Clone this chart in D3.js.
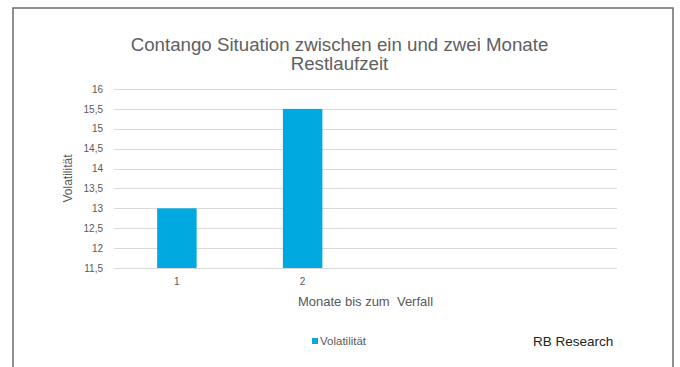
<!DOCTYPE html>
<html>
<head>
<meta charset="utf-8">
<script src="https://cdn.jsdelivr.net/npm/d3@7"></script>
<style>
  html, body { margin: 0; padding: 0; background: #fff; }
  svg { display: block; }
  text { font-family: "Liberation Sans", Arial, sans-serif; }
</style>
</head>
<body>
<svg id="chart" width="680" height="367"></svg>
<script>
// Chart data
const categories = ["1", "2", "3", "4"];
const categoryLabels = ["1", "2", "", ""];
const volatility = [13, 15.5, null, null];
const yTicks = [11.5, 12, 12.5, 13, 13.5, 14, 14.5, 15, 15.5, 16];
const titleLines = ["Contango Situation zwischen ein und zwei Monate", "Restlaufzeit"];
const seriesName = "Volatilität";
const xTitle = "Monate bis zum  Verfall";
const credit = "RB Research";

const svg = d3.select("#chart");
const plot = { left: 114, right: 617, top: 89, bottom: 268 };
const barColor = "#00A9E0";
const textGray = "#595959";

// Outer frame of the chart area
svg.append("rect")
  .attr("x", 13).attr("y", 8)
  .attr("width", 660).attr("height", 380)
  .attr("fill", "#fff")
  .attr("stroke", "#6b6b6b")
  .attr("stroke-width", 1.5);

const x = d3.scaleBand()
  .domain(categories)
  .range([plot.left, plot.right])
  .paddingInner(0)
  .paddingOuter(0);

const y = d3.scaleLinear()
  .domain([11.5, 16])
  .range([plot.bottom, plot.top]);

// Horizontal gridlines
svg.append("g")
  .selectAll("line")
  .data(yTicks)
  .join("line")
  .attr("x1", plot.left).attr("x2", plot.right)
  .attr("y1", d => Math.round(y(d)) + 0.5)
  .attr("y2", d => Math.round(y(d)) + 0.5)
  .attr("stroke", "#d9d9d9")
  .attr("stroke-width", 1);

// Y axis tick labels
const yAxis = d3.axisLeft(y)
  .tickValues(yTicks)
  .tickSize(0)
  .tickPadding(0)
  .tickFormat(d => String(d).replace(".", ","));
const gy = svg.append("g")
  .attr("transform", `translate(${plot.left - 11},0)`)
  .call(yAxis);
gy.select(".domain").remove();
gy.selectAll("text")
  .attr("fill", textGray)
  .attr("font-size", 10)
  .attr("font-family", "Liberation Sans, Arial, sans-serif");

// Bars
const barFrac = 0.314;
svg.append("g")
  .selectAll("rect")
  .data(categories.map((c, i) => ({ c, v: volatility[i] })).filter(d => d.v != null))
  .join("rect")
  .attr("x", d => x(d.c) + x.bandwidth() * (1 - barFrac) / 2)
  .attr("width", x.bandwidth() * barFrac)
  .attr("y", d => y(d.v))
  .attr("height", d => y(11.5) - y(d.v))
  .attr("fill", barColor);

// X axis category labels
const xAxis = d3.axisBottom(x)
  .tickSize(0)
  .tickPadding(0)
  .tickFormat((d, i) => categoryLabels[i]);
const gx = svg.append("g")
  .attr("transform", `translate(0,${plot.bottom + 10})`)
  .call(xAxis);
gx.select(".domain").remove();
gx.selectAll("text")
  .attr("fill", textGray)
  .attr("font-size", 10)
  .attr("font-family", "Liberation Sans, Arial, sans-serif");

// Title
const titleX = (plot.left + plot.right) / 2 - 26;
svg.append("text")
  .attr("x", titleX)
  .attr("y", 51)
  .attr("text-anchor", "middle")
  .attr("fill", "#606060")
  .attr("font-size", 18.7)
  .selectAll("tspan")
  .data(titleLines)
  .join("tspan")
  .attr("x", titleX)
  .attr("dy", (d, i) => i === 0 ? 0 : 19)
  .text(d => d);

// Axis titles
svg.append("text")
  .attr("x", (plot.left + plot.right) / 2)
  .attr("y", 306)
  .attr("text-anchor", "middle")
  .attr("fill", textGray)
  .attr("font-size", 13)
  .attr("xml:space", "preserve")
  .style("white-space", "pre")
  .text(xTitle);

svg.append("text")
  .attr("transform", `translate(72,${(plot.top + plot.bottom) / 2}) rotate(-90)`)
  .attr("text-anchor", "middle")
  .attr("fill", textGray)
  .attr("font-size", 12)
  .text(seriesName);

// Legend
svg.append("rect")
  .attr("x", 312).attr("y", 338)
  .attr("width", 6).attr("height", 6)
  .attr("fill", barColor);
svg.append("text")
  .attr("x", 320).attr("y", 345)
  .attr("fill", textGray)
  .attr("font-size", 11.5)
  .text(seriesName);

// Credit
svg.append("text")
  .attr("x", 533).attr("y", 346)
  .attr("fill", "#222")
  .attr("font-size", 13.5)
  .text(credit);
</script>
</body>
</html>
